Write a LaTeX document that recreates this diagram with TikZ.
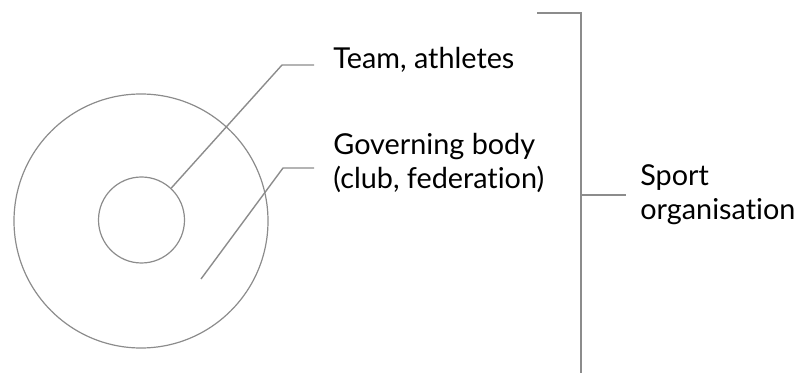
\documentclass[tikz,border=0pt]{standalone}
\usepackage{fontspec}
\setmainfont[Ligatures=NoCommon]{Lato}
\usepackage{tikz}

\begin{document}
\begin{tikzpicture}[x=0.5pt,y=-0.5pt,
  ring/.style={draw=gray!90,line width=0.6pt},
  lead/.style={draw=gray!90,line width=0.7pt},
  brace/.style={draw=gray!90,line width=1pt},
  label/.style={anchor=west,align=left,inner sep=0pt,font=\fontsize{14.4}{17}\selectfont}]
  \useasboundingbox (0,0) rectangle (797,373);
  % rings
  \node [circle,ring,minimum size=127pt,inner sep=0pt] (outer) at (141,221) {};
  \node [circle,ring,minimum size=43pt,inner sep=0pt] (inner) at (141.5,220) {};
  % labels
  \node [label] (team) at (333,60) {Team, athletes};
  \node [label] (gov) at (333,163) {Governing body\\(club, federation)};
  \node [label] (sport) at (640,195) {Sport\\organisation};
  % leader lines
  \coordinate (teambend) at (282,65);
  \coordinate (teamend) at (314,65);
  \draw [lead] (inner.47) -- (teambend) -- (teamend);
  \coordinate (govstart) at (201,279);
  \coordinate (govbend) at (283,168);
  \coordinate (govend) at (314,168);
  \draw [lead] (govstart) -- (govbend) -- (govend);
  % bracket
  \coordinate (bt) at (537,13);
  \coordinate (bc) at (581,13);
  \coordinate (bb) at (581,373);
  \coordinate (bm) at (581,195);
  \coordinate (sportend) at (626,195);
  \draw [brace] (bt) -- (bc) -- (bb);
  \draw [brace] (bm) -- (sportend);
\end{tikzpicture}
\end{document}
